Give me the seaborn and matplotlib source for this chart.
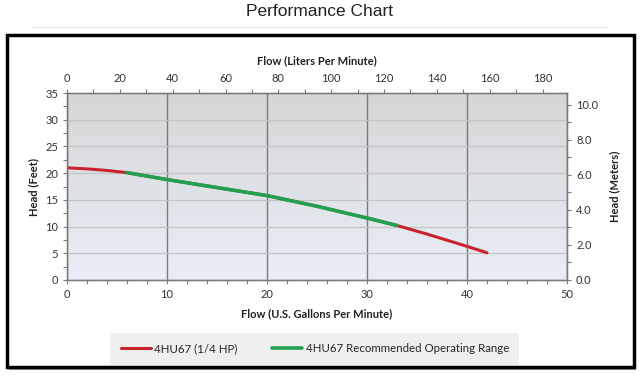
import numpy as np
import pandas as pd
import matplotlib
matplotlib.use("Agg")
import matplotlib.pyplot as plt
import seaborn as sns
from matplotlib.patches import Rectangle
from matplotlib.ticker import MultipleLocator, FormatStrFormatter
from matplotlib.lines import Line2D

# ---- data ----
flow_gpm = [0, 2, 4, 6, 10, 15, 20, 25, 30, 33, 36, 40, 42]
head_ft = [21.0, 20.8, 20.5, 20.1, 18.8, 17.3, 15.8, 13.8, 11.6, 10.2, 8.6, 6.3, 5.1]
range_start = 6
range_end = 33
series_names = ["4HU67 (1/4 HP)", "4HU67 Recommended Operating Range"]
colors = ["#c8232c", "#21a04d"]

df = pd.DataFrame({"flow": flow_gpm, "head": head_ft})
rec = df[(df.flow >= range_start) & (df.flow <= range_end)]

sns.set_style("white")
plt.rcParams["font.family"] = ["Lato", "DejaVu Sans"]

fig = plt.figure(figsize=(6.4, 3.77), dpi=100)

# outer frame with shadow
fig.patches.append(Rectangle((9 / 640, 1 - 370 / 377), 627 / 640, 333 / 377,
                             transform=fig.transFigure, facecolor="#9a9a9a",
                             edgecolor="none", zorder=0))
fig.patches.append(Rectangle((7 / 640, 1 - 367 / 377), 627 / 640, 332 / 377,
                             transform=fig.transFigure, facecolor="white",
                             edgecolor="black", linewidth=2.5, zorder=1))
fig.add_artist(Line2D([33 / 640, 607 / 640], [1 - 27 / 377, 1 - 27 / 377],
                      color="#e4e4e4", linewidth=0.8))

fig.text(0.5, 1 - 12 / 377, "Performance Chart", ha="center", va="center",
         fontsize=12.5, family=["Liberation Sans"], color="#222222")

ax = fig.add_axes([67 / 640, 1 - 280 / 377, 500 / 640, 187 / 377])
ax.set_zorder(3)

# gradient background
grad = np.linspace(0, 1, 256).reshape(-1, 1)
top = np.array([0.84, 0.84, 0.84])
bot = np.array([0.91, 0.93, 0.97])
img = top[None, None, :] * (1 - grad[..., None]) + bot[None, None, :] * grad[..., None]
ax.imshow(img, extent=[0, 1, 0, 1], transform=ax.transAxes, aspect="auto", zorder=0)

sns.lineplot(data=df, x="flow", y="head", ax=ax, color=colors[0], linewidth=2.2,
             zorder=4, legend=False)
sns.lineplot(data=rec, x="flow", y="head", ax=ax, color=colors[1], linewidth=2.6,
             zorder=5, legend=False)

ax.set_xlim(0, 50)
ax.set_ylim(0, 35)
ax.xaxis.set_major_locator(MultipleLocator(10))
ax.xaxis.set_minor_locator(MultipleLocator(2))
ax.yaxis.set_major_locator(MultipleLocator(5))
ax.yaxis.set_minor_locator(MultipleLocator(2.5))
ax.grid(True, axis="x", which="major", color="#7a7a7a", linewidth=1.0, zorder=1)
ax.grid(True, axis="y", which="major", color="#c4c4c4", linewidth=0.9, zorder=1)
ax.set_axisbelow(True)
for s in ax.spines.values():
    s.set_color("#7a7a7a")
    s.set_linewidth(1.0)
ax.tick_params(axis="both", which="both", colors="#7a7a7a", labelcolor="#333333",
               labelsize=8, direction="out", length=3, width=0.8, left=True, bottom=True)
ax.set_xlabel("Flow (U.S. Gallons Per Minute)", fontsize=8, fontweight="bold",
              color="#222222", labelpad=6)
ax.set_ylabel("Head (Feet)", fontsize=8, fontweight="bold", color="#222222", labelpad=4)

# top axis in liters per minute
axt = ax.twiny()
axt.set_xlim(0, 50 * 3.785)
axt.xaxis.set_minor_locator(MultipleLocator(10))
axt.set_xticks(np.arange(0, 181, 20))
axt.tick_params(axis="x", which="both", colors="#7a7a7a", labelcolor="#333333",
                labelsize=8, direction="out", length=3, width=0.8)
axt.set_xlabel("Flow (Liters Per Minute)", fontsize=8, fontweight="bold",
               color="#222222", labelpad=6)

# right axis in meters
axr = ax.twinx()
axr.set_ylim(0, 35 * 0.3048)
axr.yaxis.set_major_locator(MultipleLocator(2))
axr.yaxis.set_minor_locator(MultipleLocator(1))
axr.yaxis.set_major_formatter(FormatStrFormatter("%.1f"))
axr.tick_params(axis="y", which="both", colors="#7a7a7a", labelcolor="#333333",
                labelsize=8, direction="out", length=3, width=0.8)
axr.set_ylabel("Head (Meters)", fontsize=8, fontweight="bold", color="#222222", labelpad=8)
for a in (axt, axr):
    for s in a.spines.values():
        s.set_color("#7a7a7a")
    a.grid(False)

handles = [Line2D([], [], color=colors[0], linewidth=2.2),
           Line2D([], [], color=colors[1], linewidth=2.6)]
leg = fig.legend(handles, series_names, loc="center", bbox_to_anchor=(0.492, 1 - 349 / 377),
                 ncol=2, frameon=True, fontsize=8.3, handlelength=2.6, handletextpad=0.3,
                 columnspacing=3.0, borderpad=0.6)
leg.get_frame().set_facecolor("#ececec")
leg.get_frame().set_edgecolor("none")
leg.get_frame().set_boxstyle("square", pad=0.3)
leg.set_zorder(5)

fig.savefig("out.png", dpi=100)
